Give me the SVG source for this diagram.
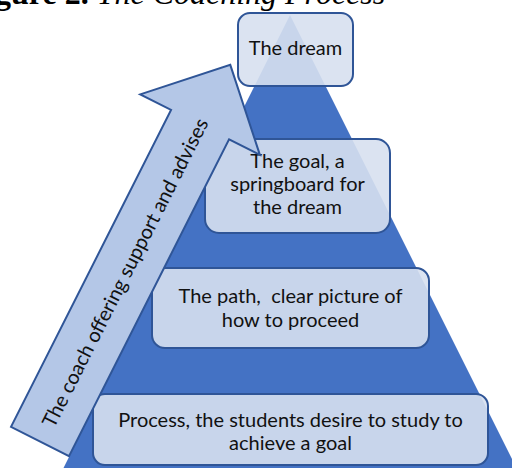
<svg xmlns="http://www.w3.org/2000/svg" width="512" height="468" viewBox="0 0 512 468">
  <style>
    .title { font-family: "Liberation Serif", "Times New Roman", serif; font-size: 32px; fill: #000; }
    .box { fill: rgb(215,224,240); fill-opacity: 0.9; stroke: #2F5597; stroke-width: 2; }
    .lbl { font-family: Lato, "Noto Sans", sans-serif; font-size: 20px; fill: #111; text-anchor: middle; }
    .arrow { fill: #B4C7E7; stroke: #2F5597; stroke-width: 2; stroke-linejoin: miter; }
  </style>
  <rect x="0" y="0" width="512" height="468" fill="#fff"/>
  <text class="title" x="-5" y="4"><tspan font-weight="bold">gure 2.</tspan><tspan font-style="italic"> The Coaching Process</tspan></text>

  <g id="pyramid">
    <polygon points="290,15 516.5,468 63.5,468" fill="#4472C4"/>
  </g>

  <g id="dream">
    <rect class="box" x="238" y="13" width="115" height="73" rx="12"/>
    <text class="lbl" x="295.5" y="55">The dream</text>
  </g>

  <g id="goal">
    <rect class="box" x="205" y="139" width="185" height="94" rx="14"/>
    <text class="lbl" x="297.5" y="168">The goal, a</text>
    <text class="lbl" x="297.5" y="191">springboard for</text>
    <text class="lbl" x="297.5" y="214">the dream</text>
  </g>

  <g id="path">
    <rect class="box" x="152" y="268" width="277" height="80" rx="13"/>
    <text class="lbl" x="290.5" y="303" xml:space="preserve">The path,  clear picture of</text>
    <text class="lbl" x="290.5" y="327">how to proceed</text>
  </g>

  <g id="process">
    <rect class="box" x="93" y="394" width="395" height="71" rx="12"/>
    <text class="lbl" x="290.5" y="427">Process, the students desire to study to</text>
    <text class="lbl" x="290.5" y="450">achieve a goal</text>
  </g>

  <g id="connectors">
    <g id="coach-arrow" transform="translate(40,441.5) rotate(-63.2)">
      <polygon class="arrow" points="0,-32.5 355,-32.5 355,-67 422,0 355,67 355,32.5 0,32.5"/>
      <text class="lbl" x="189" y="7">The coach offering support and advises</text>
    </g>
  </g>
</svg>
